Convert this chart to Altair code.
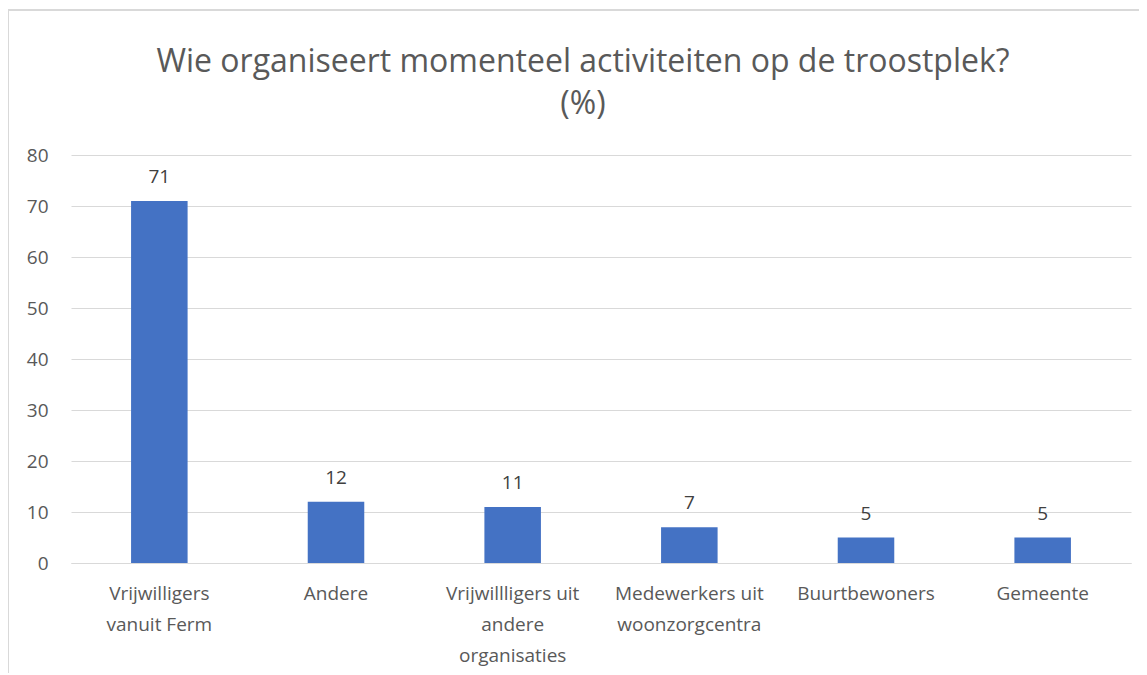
import altair as alt
import pandas as pd

categories = ["Vrijwilligers|vanuit Ferm", "Andere", "Vrijwillligers uit|andere|organisaties",
              "Medewerkers uit|woonzorgcentra", "Buurtbewoners", "Gemeente"]
values = [71, 12, 11, 7, 5, 5]

df = pd.DataFrame({"cat": categories, "val": values})

FONT = "Open Sans"
GREY = "#595959"

x = alt.X("cat:N", sort=categories, title=None,
          scale=alt.Scale(paddingInner=0.68, paddingOuter=0.34),
          axis=alt.Axis(labelExpr="split(datum.label, '|')", labelAngle=0,
                        labelFontSize=19, labelColor=GREY, labelFont=FONT,
                        labelPadding=21, labelLineHeight=31, ticks=False,
                        domainColor="#d9d9d9", domainWidth=1))
y = alt.Y("val:Q", title=None,
          scale=alt.Scale(domain=[0, 80]),
          axis=alt.Axis(values=[0, 10, 20, 30, 40, 50, 60, 70, 80], labelFontSize=19,
                        labelColor=GREY, labelFont=FONT, labelPadding=23,
                        ticks=False, domain=False, gridColor="#d9d9d9", gridWidth=1))

bars = alt.Chart(df).mark_bar(color="#4472C4").encode(x=x, y=y)
text = alt.Chart(df).mark_text(baseline="bottom", dy=-14, fontSize=19, color="#404040",
                               font=FONT).encode(x=x, y=y, text="val:Q")

frame = alt.Chart(df).mark_rect(fill=None, stroke="#d9d9d9", strokeWidth=1.5).encode(
    x=alt.value(-63), x2=alt.value(1160), y=alt.value(-145), y2=alt.value(580))

chart = alt.layer(frame, bars, text).properties(
    width=1060, height=408,
    autosize=alt.AutoSizeParams(type="none"),
    padding={"left": 63, "top": 147, "right": 8, "bottom": 110},
    title=alt.TitleParams(["Wie organiseert momenteel activiteiten op de troostplek?", "(%)"],
                          font=FONT, fontSize=32, fontWeight="normal", color=GREY,
                          anchor="middle", frame="group", offset=0, dy=112,
                          lineHeight=42, dx=-18)
).configure_view(stroke=None)

chart.save("out.html", embed_options={"renderer": "svg", "actions": False})
